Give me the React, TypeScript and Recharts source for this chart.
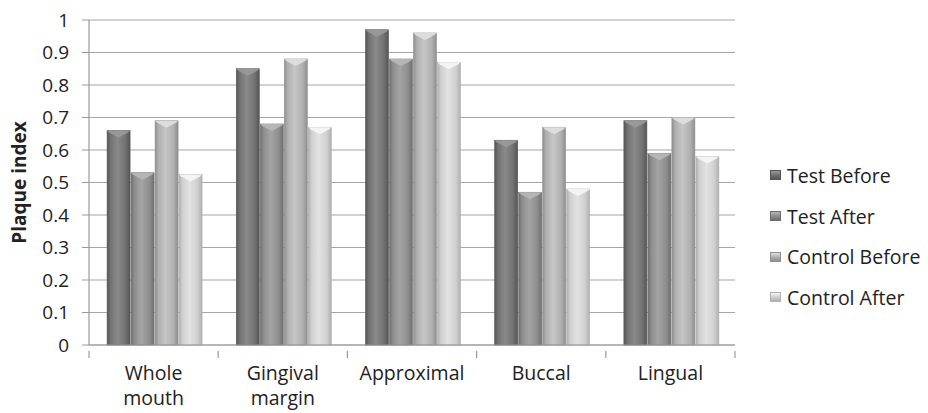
import React from "react";
import { BarChart, Bar, XAxis, YAxis, CartesianGrid, Legend } from "recharts";

const categories = ["Whole mouth", "Gingival margin", "Approximal", "Buccal", "Lingual"];
const testBefore = [0.66, 0.85, 0.97, 0.63, 0.69];
const testAfter = [0.53, 0.68, 0.88, 0.47, 0.59];
const controlBefore = [0.69, 0.88, 0.96, 0.67, 0.7];
const controlAfter = [0.525, 0.67, 0.87, 0.48, 0.58];
const yTicks = [0, 0.1, 0.2, 0.3, 0.4, 0.5, 0.6, 0.7, 0.8, 0.9, 1];

const series = [
  { key: "tb", name: "Test Before", values: testBefore, base: "#727272", dark: "#555555", light: "#8a8a8a", top: "#9a9a9a" },
  { key: "ta", name: "Test After", values: testAfter, base: "#8e8e8e", dark: "#6f6f6f", light: "#a4a4a4", top: "#b8b8b8" },
  { key: "cb", name: "Control Before", values: controlBefore, base: "#b0b0b0", dark: "#8f8f8f", light: "#c6c6c6", top: "#e0e0e0" },
  { key: "ca", name: "Control After", values: controlAfter, base: "#d0d0d0", dark: "#b0b0b0", light: "#e2e2e2", top: "#f6f6f6" },
];

const data = categories.map((c, i) => {
  const row: any = { name: c };
  series.forEach((s) => (row[s.key] = s.values[i]));
  return row;
});

const FONT = "'Open Sans', sans-serif";
const AXIS = "#9a9a9a";

const makeShape = (s: any) => (props: any) => {
  const { x, y, width, height } = props;
  if (!height || height <= 0) return <g />;
  const ch = Math.min(7, height);
  return (
    <g>
      <rect x={x} y={y} width={width} height={height} fill={`url(#grad-${s.key})`} stroke={s.dark} strokeWidth={0.6} />
      <polygon
        points={`${x},${y} ${x + width},${y} ${x + width - 2},${y + 2} ${x + width / 2},${y + ch} ${x + 2},${y + 2}`}
        fill={s.top}
        opacity={0.9}
      />
    </g>
  );
};

const CategoryTick = (props: any) => {
  const { x, y, payload, index, visibleTicksCount } = props;
  const words = String(payload.value).split(" ");
  const half = typeof payload.offset === "number" ? payload.offset : 0;
  const axisY = y - 2;
  const isLast = index === (visibleTicksCount ?? categories.length) - 1;
  return (
    <g>
      {half > 0 && <line x1={x - half} x2={x - half} y1={axisY} y2={axisY + 7} stroke={AXIS} strokeWidth={1.2} />}
      {half > 0 && isLast && <line x1={x + half} x2={x + half} y1={axisY} y2={axisY + 7} stroke={AXIS} strokeWidth={1.2} />}
      {words.map((w, i) => (
        <text key={i} x={x} y={y + 27 + i * 25} textAnchor="middle" fontFamily={FONT} fontSize={19.5} fill="#222">
          {w}
        </text>
      ))}
    </g>
  );
};

const YLabel = (props: any) => {
  const { viewBox } = props;
  const cy = viewBox.y + viewBox.height / 2;
  const cx = 19;
  return (
    <text x={cx} y={cy} transform={`rotate(-90 ${cx} ${cy})`} textAnchor="middle" dominantBaseline="central" fontFamily={FONT} fontWeight="bold" fontSize={19} fill="#222">
      Plaque index
    </text>
  );
};

const LegendContent = (props: any) => {
  const payload = [...(props.payload || [])].sort(
    (a: any, b: any) => series.findIndex((q) => q.name === a.value) - series.findIndex((q) => q.name === b.value)
  );
  return (
    <div style={{ fontFamily: FONT, fontSize: 19.5, color: "#222" }}>
      {payload.map((p: any, i: number) => {
        const s = series.find((q) => q.name === p.value)!;
        return (
          <div key={i} style={{ display: "flex", alignItems: "center", height: 40.7 }}>
            <span
              style={{
                display: "inline-block",
                width: 11,
                height: 10,
                marginRight: 6,
                background: `linear-gradient(to bottom, ${s.top}, ${s.base} 50%, ${s.dark})`,
                border: `1px solid ${s.dark}`,
                boxSizing: "border-box",
              }}
            />
            <span>{p.value}</span>
          </div>
        );
      })}
    </div>
  );
};

export default function App() {
  return (
    <div style={{ position: "absolute", left: 0, top: 0, background: "#fff" }}>
      <BarChart width={928} height={413} data={data} margin={{ top: 20, right: 193, left: 0, bottom: 0 }} barCategoryGap="14%" barGap={1}>
        <defs>
          {series.map((s) => (
            <linearGradient key={s.key} id={`grad-${s.key}`} x1="0" y1="0" x2="1" y2="0">
              <stop offset="0%" stopColor={s.dark} />
              <stop offset="15%" stopColor={s.base} />
              <stop offset="45%" stopColor={s.light} />
              <stop offset="80%" stopColor={s.base} />
              <stop offset="100%" stopColor={s.dark} />
            </linearGradient>
          ))}
        </defs>
        <CartesianGrid vertical={false} stroke="#a6a6a6" strokeWidth={1.2} />
        <XAxis
          dataKey="name"
          height={68}
          tickLine={false}
          tickMargin={2}
          axisLine={{ stroke: AXIS, strokeWidth: 1.2 }}
          tick={<CategoryTick />}
          interval={0}
        />
        <YAxis
          width={89}
          domain={[0, 1]}
          ticks={yTicks}
          tickSize={7}
          tickMargin={13}
          axisLine={{ stroke: AXIS, strokeWidth: 1.2 }}
          tickLine={{ stroke: AXIS }}
          tick={{ fontFamily: FONT, fontSize: 19, fill: "#222" }}
          label={<YLabel />}
        />
        <Legend
          layout="vertical"
          align="center"
          verticalAlign="middle"
          wrapperStyle={{ left: 770, top: 155, width: 160 }}
          content={<LegendContent />}
        />
        {series.map((s) => (
          <Bar key={s.key} dataKey={s.key} name={s.name} fill={s.base} shape={makeShape(s)} isAnimationActive={false} />
        ))}
      </BarChart>
    </div>
  );
}
